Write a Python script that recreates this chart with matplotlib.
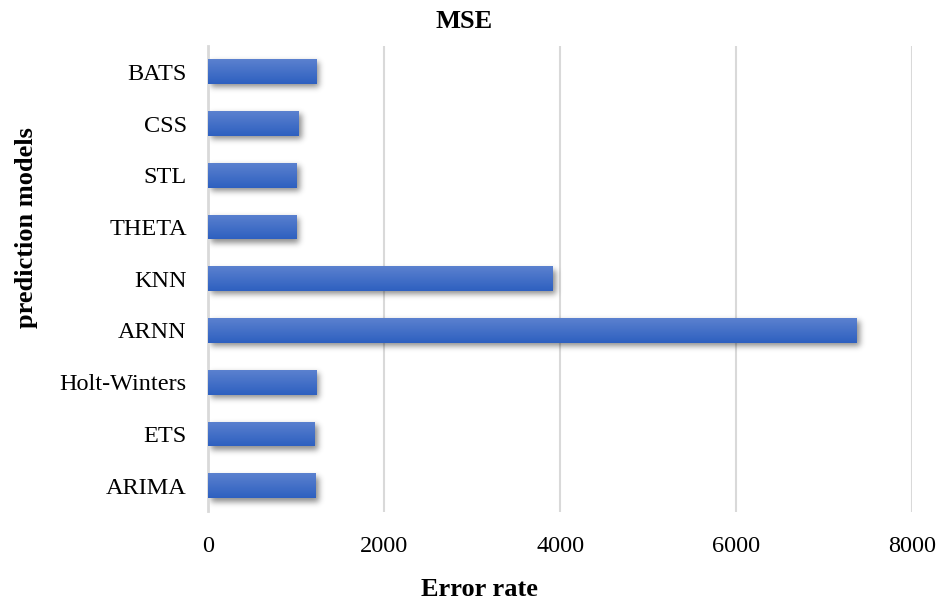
import numpy as np
import matplotlib
matplotlib.use("Agg")
import matplotlib.pyplot as plt
from matplotlib.patches import Rectangle
from matplotlib.colors import LinearSegmentedColormap

plt.rcParams["font.family"] = ["Liberation Serif", "DejaVu Serif"]

models = ["ARIMA", "ETS", "Holt-Winters", "ARNN", "KNN", "THETA", "STL", "CSS", "BATS"]
mse = [1222, 1215, 1228, 7370, 3915, 1005, 1008, 1030, 1232]
xticks = [0, 2000, 4000, 6000, 8000]

W, H, DPI = 941, 603, 100
fig = plt.figure(figsize=(W / DPI, H / DPI), dpi=DPI)
ax = fig.add_axes([208.3 / W, 1 - 511.5 / H, (912.3 - 208.3) / W, (511.5 - 46) / H])

xmin, xmax = 0, 8000
ymin, ymax = -0.5, len(models) - 0.5
ax.set_xlim(xmin, xmax)
ax.set_ylim(ymin, ymax)

bar_h = 0.48
ypos = np.arange(len(models))

# soft drop shadow rendered as a blurred mask in pixel space
pw, ph = 704, 466
px_per_x = pw / (xmax - xmin)
px_per_y = ph / (ymax - ymin)
mask = np.zeros((ph, pw))
dx, dy = 3, 4
for y, v in zip(ypos, mse):
    x0 = dx
    x1 = int(round(v * px_per_x)) + dx
    top = int(round((ymax - (y + bar_h / 2)) * px_per_y)) + dy
    bot = int(round((ymax - (y - bar_h / 2)) * px_per_y)) + dy
    mask[max(top, 0):min(bot, ph), max(x0, 0):min(x1, pw)] = 1.0
sig = 3.0
k = np.arange(-10, 11)
g = np.exp(-k**2 / (2 * sig**2))
g /= g.sum()
blur = np.apply_along_axis(lambda r: np.convolve(r, g, mode="same"), 1, mask)
blur = np.apply_along_axis(lambda c: np.convolve(c, g, mode="same"), 0, blur)
shadow = np.zeros((ph, pw, 4))
shadow[..., 3] = blur * 0.45
ax.imshow(shadow, extent=[xmin, xmax, ymin, ymax], aspect="auto",
          interpolation="bilinear", zorder=2)

# gradient-filled bars
cmap = LinearSegmentedColormap.from_list("barfill", ["#2e60c0", "#5b81cf"])
grad = np.linspace(0, 1, 64).reshape(-1, 1)
for y, v in zip(ypos, mse):
    rect = Rectangle((0, y - bar_h / 2), v, bar_h, facecolor="none",
                     edgecolor="none", zorder=3)
    ax.add_patch(rect)
    im = ax.imshow(grad, extent=[0, v, y - bar_h / 2, y + bar_h / 2],
                   origin="lower", aspect="auto", cmap=cmap, zorder=3)
    im.set_clip_path(rect)

ax.set_xlim(xmin, xmax)
ax.set_ylim(ymin, ymax)

ax.set_xticks(xticks)
ax.set_xticklabels([str(t) for t in xticks])
ax.set_yticks(ypos)
ax.set_yticklabels(models)
ax.tick_params(axis="both", length=0, labelsize=17.5, colors="#000000")
ax.tick_params(axis="y", pad=15.5)
ax.tick_params(axis="x", pad=17.5)

ax.grid(axis="x", color="#d9d9d9", linewidth=1.5, zorder=0)
ax.set_axisbelow(True)
for s in ["top", "right", "bottom"]:
    ax.spines[s].set_visible(False)
ax.spines["left"].set_color("#d9d9d9")
ax.spines["left"].set_linewidth(2)

fig.text(464 / W, 1 - 22 / H, "MSE", ha="center", va="center",
         fontsize=19, fontweight="bold")
fig.text(479 / W, 1 - 589 / H, "Error rate", ha="center", va="center",
         fontsize=19, fontweight="bold")
fig.text(27 / W, 1 - 228 / H, "prediction models", ha="center", va="center",
         rotation=90, fontsize=19, fontweight="bold")

fig.savefig("out.png", dpi=DPI)
